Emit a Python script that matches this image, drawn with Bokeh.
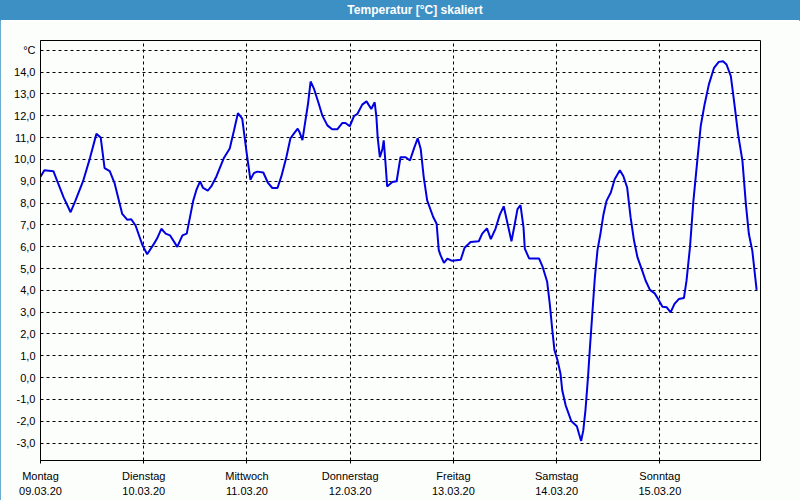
from bokeh.plotting import figure
from bokeh.models import FixedTicker, Range1d, Div
from bokeh.layouts import column
from bokeh.embed import file_html
from bokeh.resources import INLINE

# time in hours since Monday 09.03.20 00:00
hours = [0, 0.9, 3.0, 3.9, 5.4, 7.0, 8.1, 9.9, 11.5, 13.0,
         14.0, 14.9, 16.1, 17.2, 19.0, 20.2, 21.1, 22.1, 23.7, 24.8,
         26.4, 27.1, 28.1, 29.1, 30.1, 31.8, 33.0, 34.0, 35.5, 36.3,
         37.1, 37.8, 38.9, 39.7, 40.9, 42.6, 44.0, 45.0, 45.9, 46.9,
         47.9, 48.8, 49.6, 50.4, 51.8, 52.9, 53.9, 55.1, 56.0, 57.2,
         58.1, 58.9, 59.8, 60.2, 60.9, 61.6, 62.2, 62.8, 63.6, 64.7,
         65.5, 66.7, 67.8, 69.0, 70.2, 70.9, 71.9, 72.9, 73.7, 74.8,
         75.8, 76.9, 77.7, 78.1, 78.4, 78.9, 79.5, 79.8, 80.2, 80.6,
         81.8, 82.8, 83.7, 84.9, 85.9, 86.8, 87.7, 88.4, 89.1, 89.9,
         91.3, 92.1, 92.6, 93.0, 93.8, 94.6, 95.7, 97.7, 98.6, 100.0,
         101.9, 102.7, 103.8, 104.7, 105.8, 106.8, 107.7, 108.6, 109.5, 110.2,
         110.9, 111.6, 112.3, 112.6, 113.6, 115.9, 116.7, 117.8, 118.4, 119.0,
         119.5, 120.2, 120.9, 121.3, 122.1, 123.4, 124.7, 125.2, 125.7, 126.2,
         126.7, 127.3, 127.7, 128.3, 128.9, 129.5, 130.2, 130.9, 131.6, 132.6,
         133.5, 134.7, 135.5, 136.4, 137.2, 138.0, 138.8, 139.9, 140.7, 141.7,
         142.8, 143.6, 144.6, 145.6, 146.5, 147.4, 148.4, 149.6, 150.2, 151.0,
         151.8, 152.7, 153.5, 154.4, 155.4, 156.6, 157.7, 158.7, 159.5, 160.5,
         161.2, 162.2, 163.2, 164.0, 164.7, 165.5, 166.5]

temps = [9.2, 9.5, 9.46, 9.0, 8.25, 7.58, 8.1, 9.0, 10.06, 11.17,
         11.0, 9.6, 9.46, 8.93, 7.5, 7.23, 7.26, 6.97, 6.07, 5.65,
         6.14, 6.37, 6.82, 6.6, 6.52, 5.99, 6.52, 6.6, 8.1, 8.63,
         8.99, 8.69, 8.57, 8.76, 9.22, 10.05, 10.5, 11.34, 12.12, 11.87,
         10.35, 9.07, 9.37, 9.44, 9.4, 8.92, 8.69, 8.69, 9.22, 10.13,
         10.96, 11.18, 11.41, 11.26, 10.88, 11.79, 12.55, 13.57, 13.23, 12.55,
         12.02, 11.56, 11.38, 11.38, 11.67, 11.67, 11.52, 11.99, 12.09, 12.51,
         12.66, 12.31, 12.62, 11.93, 11.0, 10.1, 10.48, 10.87, 9.87, 8.76,
         8.96, 9.0, 10.1, 10.1, 9.95, 10.48, 10.97, 10.48, 9.19, 8.12,
         7.36, 7.05, 5.84, 5.61, 5.26, 5.45, 5.35, 5.4, 5.95, 6.21,
         6.25, 6.6, 6.84, 6.35, 6.83, 7.47, 7.85, 7.05, 6.25, 6.97,
         7.72, 7.9, 6.89, 5.91, 5.46, 5.46, 5.1, 4.39, 3.39, 2.17,
         1.25, 0.8, 0.18, -0.58, -1.27, -1.99, -2.23, -2.57, -2.9, -2.42,
         -1.5, 0.03, 1.25, 2.94, 4.62, 5.84, 6.61, 7.49, 8.1, 8.48,
         9.09, 9.5, 9.24, 8.71, 7.34, 6.27, 5.51, 4.9, 4.44, 4.02,
         3.86, 3.6, 3.25, 3.22, 2.99, 3.38, 3.6, 3.65, 4.44, 5.97,
         8.1, 9.93, 11.53, 12.52, 13.44, 14.2, 14.47, 14.5, 14.35, 13.82,
         12.75, 11.15, 9.93, 7.95, 6.58, 5.81, 4.02]

day_ticks = [0, 24, 48, 72, 96, 120, 144]
day_names = ["Montag", "Dienstag", "Mittwoch", "Donnerstag", "Freitag", "Samstag", "Sonntag"]
day_dates = ["09.03.20", "10.03.20", "11.03.20", "12.03.20", "13.03.20", "14.03.20", "15.03.20"]
y_ticks = list(range(-3, 16))
y_labels = {v: ("°C" if v == 15 else f"{v},0") for v in y_ticks}
title_text = "Temperatur [°C] skaliert"

FONT = "Liberation Sans"
BAR = "#3d90c4"
BG = "#fcfefc"

# title bar
top = Div(text=title_text, width=800, height=20, margin=(0, 0, 0, 0),
          styles={"background-color": BAR, "color": "white", "font-weight": "bold",
                  "font-size": "12px", "font-family": FONT, "text-align": "center",
                  "line-height": "20px", "text-indent": "30px", "box-sizing": "border-box",
                  "overflow": "hidden", "white-space": "nowrap", "padding": "0"})

# main chart
p = figure(width=800, height=480, output_backend="svg", toolbar_location=None,
           x_range=Range1d(0, 167.4), y_range=Range1d(-3.8, 15.45),
           min_border_left=40, min_border_right=40, min_border_top=20, min_border_bottom=40)
p.margin = (0, 0, 0, 0)
p.background_fill_color = BG
p.border_fill_color = BG
p.outline_line_color = "black"
p.outline_line_width = 1

p.line(hours, temps, line_color="#0000e0", line_width=2)

p.xaxis.ticker = FixedTicker(ticks=day_ticks)
p.xaxis.major_label_overrides = {t: f"{n}\n{d}" for t, n, d in zip(day_ticks, day_names, day_dates)}
p.xaxis.major_tick_out = 3
p.xaxis.major_tick_in = 0
p.xaxis.minor_tick_out = 0
p.xaxis.minor_tick_in = 0
p.xaxis.major_label_standoff = 6
p.xaxis.major_label_text_font = FONT
p.xaxis.major_label_text_font_size = "11px"
p.xaxis.major_label_text_line_height = 1.3
p.xaxis.major_label_text_color = "black"
p.xaxis.axis_line_color = "black"

p.yaxis.ticker = FixedTicker(ticks=y_ticks)
p.yaxis.major_label_overrides = y_labels
p.yaxis.major_tick_out = 0
p.yaxis.major_tick_in = 0
p.yaxis.minor_tick_out = 0
p.yaxis.minor_tick_in = 0
p.yaxis.major_label_standoff = 5
p.yaxis.major_label_text_font = FONT
p.yaxis.major_label_text_font_size = "11px"
p.yaxis.major_label_text_color = "black"
p.yaxis.axis_line_color = "black"

p.xgrid.ticker = FixedTicker(ticks=day_ticks[1:])
p.ygrid.ticker = FixedTicker(ticks=y_ticks)
for g in (p.xgrid, p.ygrid):
    g.grid_line_color = "black"
    g.grid_line_dash = "3 3"
    g.grid_line_width = 1
    g.grid_line_alpha = 1.0

layout = column(top, p, spacing=0, margin=(0, 0, 0, 0),
                styles={"outline": "1px solid " + BAR, "outline-offset": "-1px"})
open("out.html", "w").write(file_html(layout, INLINE))
